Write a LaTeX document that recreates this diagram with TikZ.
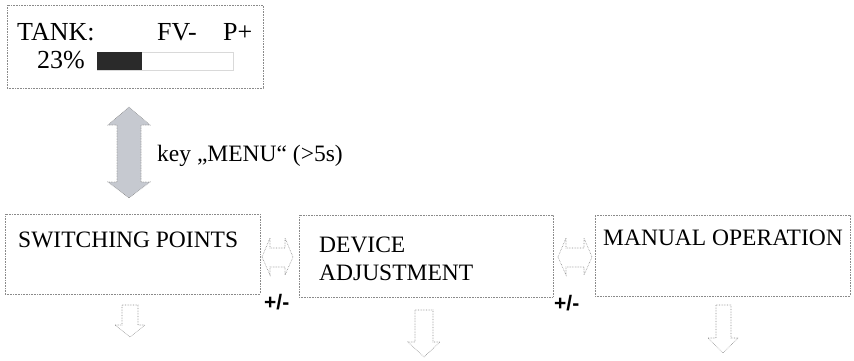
\documentclass[tikz,border=0pt]{standalone}
\usepackage{fontspec}
\setmainfont{Liberation Serif}
\newfontfamily\arialfont{Liberation Sans}
\definecolor{bordergray}{HTML}{8A8A8A}
\definecolor{arrowfill}{HTML}{C6C9D0}
\definecolor{barblack}{HTML}{2A2A2A}
\tikzset{
  framebox/.style={draw=bordergray, densely dotted, line width=0.6pt, inner sep=0pt, outer sep=0pt, anchor=north west},
  lcd/.style={font=\fontsize{26}{30}\selectfont, inner sep=0pt, anchor=base west},
  boxtxt/.style={font=\fontsize{23.5}{28}\selectfont, inner sep=0pt, anchor=base west},
  pm/.style={font=\arialfont\bfseries\fontsize{21}{24}\selectfont, inner sep=0pt, anchor=base west},
  outlinearrow/.style={draw=bordergray, densely dotted, line width=0.6pt, fill=white},
  bigarrow/.style={draw=bordergray, densely dotted, line width=0.6pt, fill=arrowfill}
}
\begin{document}
\begin{tikzpicture}[x=1pt,y=-1pt]
\useasboundingbox (0,0) rectangle (854,360);
% display box
\node[framebox, minimum width=256pt, minimum height=83pt] (tank) at (7,5) {};
\node[lcd] (tanklbl) at (17,40) {TANK:};
\node[lcd] (fv) at (157,40) {FV-};
\node[lcd] (pp) at (223,40) {P+};
\node[lcd] (pct) at (37,68) {23\%};
\node[draw=black!15, line width=0.5pt, inner sep=0pt, outer sep=0pt, anchor=north west, minimum width=136pt, minimum height=18pt] (barframe) at (97,52) {};
\node[fill=barblack, inner sep=0pt, outer sep=0pt, anchor=north west, minimum width=45pt, minimum height=18pt] (barfill) at (97,52) {};
% big double arrow
\path[bigarrow] (129,107) -- (150,125) -- (141,125) -- (141,182) -- (150,182) -- (129,198)
  -- (108,182) -- (117,182) -- (117,125) -- (108,125) -- cycle;
\node[boxtxt] (key) at (157,161) {key „MENU“ (>5s)};
% menu boxes
\node[framebox, minimum width=255pt, minimum height=80pt] (sw) at (5,214) {};
\node[framebox, minimum width=254pt, minimum height=82pt] (dev) at (299,215) {};
\node[framebox, minimum width=255pt, minimum height=81pt] (man) at (595,215) {};
\node[boxtxt] (swlbl) at (18,247) {SWITCHING POINTS};
\node[boxtxt] (devlbl1) at (319,252) {DEVICE};
\node[boxtxt] (devlbl2) at (319,280) {ADJUSTMENT};
\node[boxtxt] (manlbl) at (603,245) {MANUAL OPERATION};
% small double arrows
\path[outlinearrow] (262,257) -- (270,238) -- (270,248) -- (285,248) -- (285,238) -- (293,257)
  -- (285,275) -- (285,267) -- (270,267) -- (270,275) -- cycle;
\path[outlinearrow] (558,257) -- (566,238) -- (566,248) -- (584,248) -- (584,238) -- (592,257)
  -- (584,275) -- (584,267) -- (566,267) -- (566,275) -- cycle;
\node[pm] (pm1) at (264,309) {+/-};
\node[pm] (pm2) at (554,310) {+/-};
% down arrows
\path[outlinearrow] (122,305) -- (138,305) -- (138,325) -- (145,325) -- (130,337) -- (115,325) -- (122,325) -- cycle;
\path[outlinearrow] (415,310) -- (433,310) -- (433,342) -- (440,342) -- (424,357) -- (408,342) -- (415,342) -- cycle;
\path[outlinearrow] (716,305) -- (731,305) -- (731,338) -- (738,338) -- (723,353) -- (708,338) -- (716,338) -- cycle;
\end{tikzpicture}
\end{document}
